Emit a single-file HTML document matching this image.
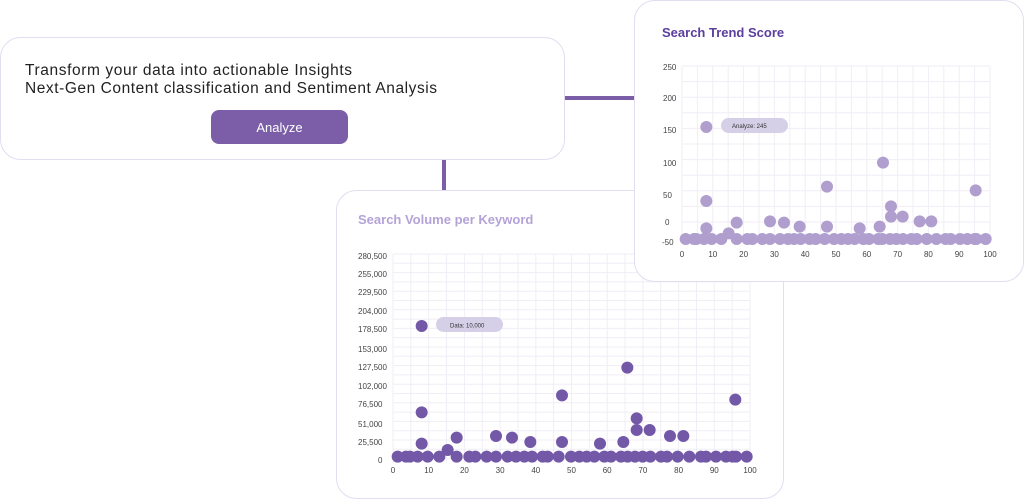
<!DOCTYPE html>
<html><head><meta charset="utf-8"><style>
html,body{margin:0;padding:0;background:#fff;}
svg{display:block;font-family:"Liberation Sans",sans-serif;}
</style></head><body>
<svg width="1024" height="499" viewBox="0 0 1024 499" xmlns="http://www.w3.org/2000/svg">
<rect x="565" y="96" width="72" height="4" fill="#7b5ea7"/>
<rect x="442" y="158" width="4" height="34" fill="#7b5ea7"/>
<rect x="0.5" y="37.5" width="564" height="122" rx="20" fill="#fff" stroke="#e2ddf0"/>
<text x="25" y="75" font-size="15.5" fill="#222" textLength="327" lengthAdjust="spacing">Transform your data into actionable Insights</text>
<text x="25" y="93" font-size="15.5" fill="#222" textLength="412" lengthAdjust="spacing">Next-Gen Content classification and Sentiment Analysis</text>
<rect x="211" y="110" width="137" height="34" rx="8" fill="#7b5ea7"/>
<text x="279.5" y="132" font-size="13" fill="#fff" text-anchor="middle">Analyze</text>

<rect x="336.5" y="190.5" width="447" height="308" rx="20" fill="#fff" stroke="#e2ddf0"/>
<text x="358" y="224" font-size="13" font-weight="bold" fill="#b4a3d8">Search Volume per Keyword</text>
<g id="g1" stroke="#f0eef5" stroke-width="1"></g>
<g font-size="8" fill="#444">
<text x="358" y="259">280,500</text><text x="358" y="277">255,000</text><text x="358" y="295">229,500</text><text x="358" y="314">204,000</text><text x="358" y="332">178,500</text><text x="358" y="352">153,000</text><text x="358" y="370">127,500</text><text x="358" y="389">102,000</text><text x="358" y="407">76,500</text><text x="358" y="427">51,000</text><text x="358" y="445">25,500</text><text x="378" y="463">0</text>
</g>
<g font-size="8" fill="#444" text-anchor="middle" id="xl1"></g>
<g fill="#7358a8" id="d1"></g>
<rect x="436" y="317" width="67" height="15" rx="7.5" fill="#d6cfe8"/>
<text x="450" y="327.5" font-size="6" fill="#333">Data: 10,000</text>

<rect x="634.5" y="0.5" width="389" height="281" rx="20" fill="#fff" stroke="#e2ddf0"/>
<text x="662" y="37" font-size="13" font-weight="bold" fill="#5b3e9e">Search Trend Score</text>
<g id="g2" stroke="#f0eef5" stroke-width="1"></g>
<g font-size="8" fill="#444">
<text x="663" y="70">250</text><text x="663" y="101">200</text><text x="663" y="133">150</text><text x="663" y="166">100</text><text x="663" y="198">50</text><text x="665" y="225">0</text><text x="662" y="245">-50</text>
</g>
<g font-size="8" fill="#444" text-anchor="middle" id="xl2"></g>
<g fill="#b09fce" id="d2"></g>
<rect x="721" y="118" width="67" height="15" rx="7.5" fill="#d6cfe8"/>
<text x="732" y="128" font-size="6" fill="#333">Analyze: 245</text>
</svg>
<script>
var NS="http://www.w3.org/2000/svg";
function el(p,t,a,txt){var e=document.createElementNS(NS,t);for(var k in a)e.setAttribute(k,a[k]);if(txt!==undefined)e.textContent=txt;p.appendChild(e);return e;}
function build(g,xl,d,x0,x1,y0,y1,hstep,dots,r,ox,oy,lbly){
 for(var i=0;i<=20;i++){var x=x0+(x1-x0)*i/20;el(g,'line',{x1:x,x2:x,y1:y0,y2:y1});}
 for(var y=y0;y<=y1+0.1;y+=hstep){el(g,'line',{x1:x0,x2:x1,y1:y,y2:y});}
 for(var i=0;i<=10;i++){el(xl,'text',{x:x0+(x1-x0)*i/10,y:lbly},String(i*10));}
 dots.forEach(function(p){el(d,'circle',{cx:ox+p[0]/3,cy:oy+p[1]/3,r:r});});
}
var b1=[185,210,222,245,275,310,362,400,418,452,480,515,540,565,588,620,635,668,705,730,752,775,805,825,855,875,897,920,943,975,993,1025,1060,1095,1110,1140,1170,1190,1200,1232].map(function(x){return [x,800];});
b1=b1.concat([[257,408],[257,667],[257,761],[335,780],[362,743],[480,738],[528,743],[583,756],[678,616],[678,756],[792,761],[862,756],[874,533],[902,685],[902,720],[941,720],[1002,738],[1042,738],[1198,629]]);
build(document.getElementById('g1'),document.getElementById('xl1'),document.getElementById('d1'),393,750,254,463,9.3,b1,6,336,190,473);
var b2=[155,180,187,210,233,262,308,340,355,385,408,438,462,480,500,527,545,572,600,622,642,662,688,705,733,745,768,787,807,832,848,878,907,935,950,978,1000,1022,1027,1055].map(function(x){return [x,717];});
b2=b2.concat([[284,700],[217,381],[217,603],[217,685],[308,668],[408,664],[450,668],[497,680],[579,560],[579,680],[677,685],[737,680],[747,488],[771,619],[771,650],[806,650],[857,664],[892,664],[1025,571]]);
build(document.getElementById('g2'),document.getElementById('xl2'),document.getElementById('d2'),682,990,66,236,15.6,b2,6,634,0,257);
</script>
</body></html>
